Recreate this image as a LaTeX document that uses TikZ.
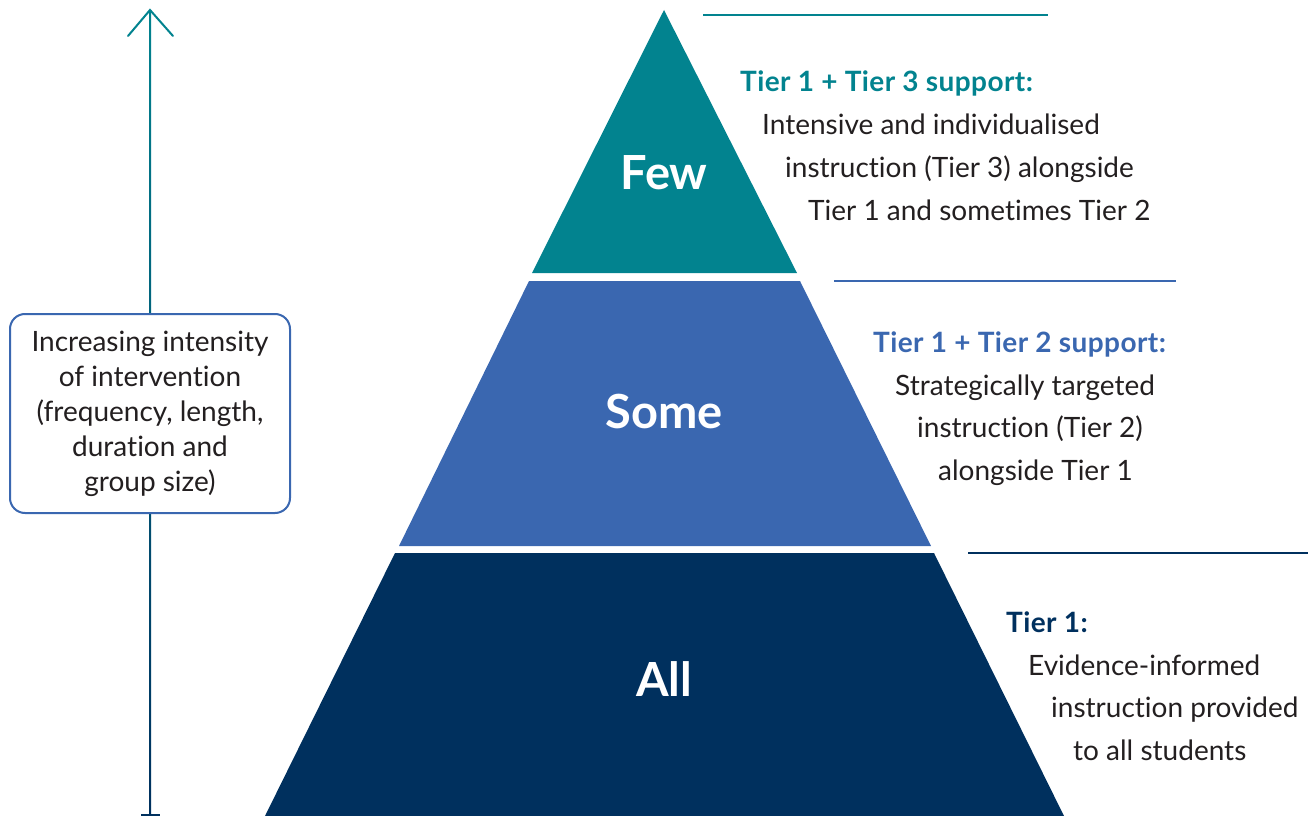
\documentclass[tikz,border=0pt]{standalone}
\usepackage{fontspec}
\setmainfont{Lato}[Ligatures=NoCommon]
\definecolor{teal1}{HTML}{02838F}
\definecolor{blue1}{HTML}{3A67B0}
\definecolor{navy1}{HTML}{00305E}
\definecolor{txt}{HTML}{231F20}
\begin{document}
\begin{tikzpicture}[x=1pt,y=-1pt,
  body/.style={anchor=base west, inner sep=0pt, font=\fontsize{28}{32}\selectfont, text=txt},
  head/.style={anchor=base west, inner sep=0pt, font=\fontsize{28}{32}\selectfont\bfseries\addfontfeature{LetterSpace=1.5}},
  big/.style={anchor=base, inner sep=0pt, text=white, font=\fontsize{47}{52}\selectfont\bfseries},
  rulebar/.style={line width=2pt}]
\useasboundingbox (0,0) rectangle (1310,816);
% pyramid
\fill[teal1] (664,10) -- (797,273) -- (532,273) -- cycle;
\fill[blue1] (529,281) -- (800,281) -- (931,546) -- (399,546) -- cycle;
\fill[navy1] (395,553) -- (934,553) -- (1064,816) -- (265,816) -- cycle;
\node[big] (few) at (664,189) {Few};
\node[big] (some) at (664,428) {Some};
\node[big] (all) at (664,696) {All};
% rules
\coordinate (r1a) at (703,15); \coordinate (r1b) at (1048,15);
\coordinate (r2a) at (834,281); \coordinate (r2b) at (1176,281);
\coordinate (r3a) at (968,553); \coordinate (r3b) at (1308,553);
\draw[rulebar, teal1] (r1a) -- (r1b);
\draw[rulebar, blue1] (r2a) -- (r2b);
\draw[rulebar, navy1] (r3a) -- (r3b);
% tier 3 text
\node[head, text=teal1] (h3) at (740,92) {Tier 1 + Tier 3 support:};
\node[body] (t3a) at (762,135) {Intensive and individualised};
\node[body] (t3b) at (785,177) {instruction (Tier 3) alongside};
\node[body] (t3c) at (808,220) {Tier 1 and sometimes Tier 2};
% tier 2 text
\node[head, text=blue1] (h2) at (873,352) {Tier 1 + Tier 2 support:};
\node[body] (t2a) at (895,395) {Strategically targeted};
\node[body] (t2b) at (917,437) {instruction (Tier 2)};
\node[body] (t2c) at (938,480) {alongside Tier 1};
% tier 1 text
\node[head, text=navy1] (h1) at (1006,632) {Tier 1:};
\node[body] (t1a) at (1028,675) {Evidence-informed};
\node[body] (t1b) at (1051,717) {instruction provided};
\node[body] (t1c) at (1073,760) {to all students};
% arrow
\coordinate (tip) at (150,10);
\coordinate (bot) at (150,815);
\coordinate (armL) at (128,36);
\coordinate (armR) at (173,36);
\coordinate (tickL) at (141,815);
\coordinate (tickR) at (160,815);
\shade[top color=teal1, middle color=blue1, bottom color=navy1] (149,11) rectangle (151,815);
\draw[teal1, line width=2pt, line cap=round, line join=miter] (armL) -- (tip) -- (armR);
\draw[navy1, line width=2pt] (tickL) -- (tickR);
% box
\node[draw=blue1, line width=2pt, rounded corners=15pt, fill=white,
  minimum width=280pt, minimum height=199pt, align=center, inner sep=0pt,
  font=\fontsize{28}{35}\selectfont, text=txt] (box) at (150,413.5)
  {Increasing intensity\\of intervention\\(frequency, length,\\duration and\\group size)};
\end{tikzpicture}
\end{document}
